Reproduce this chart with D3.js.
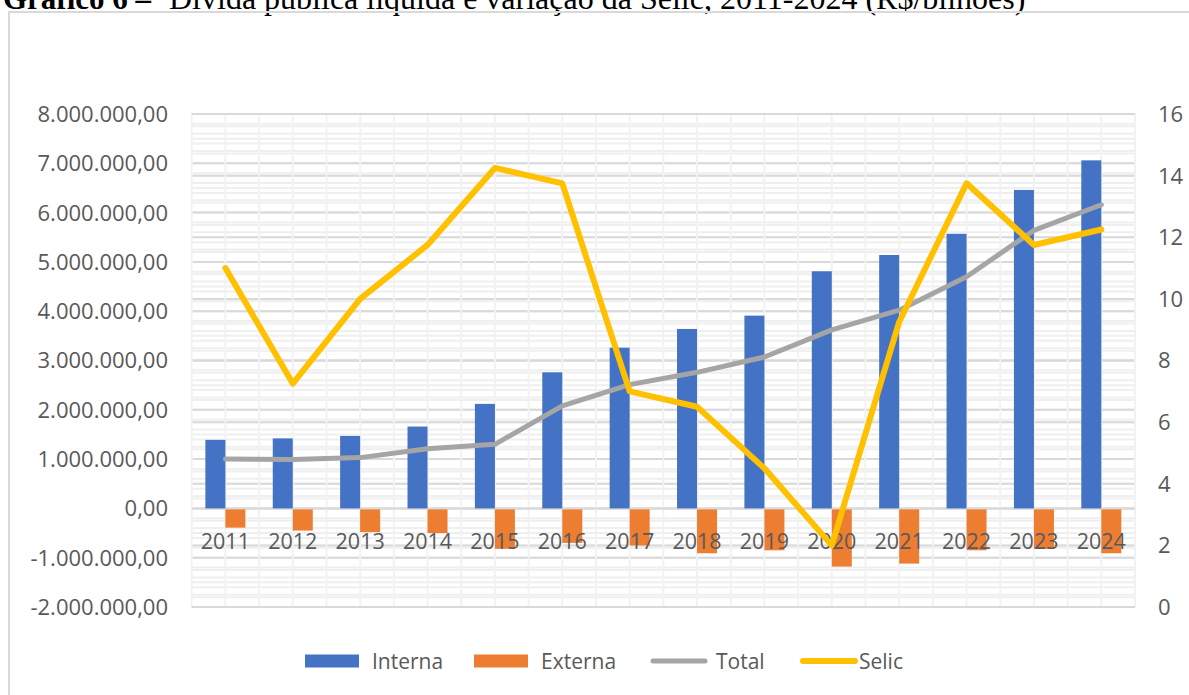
<!DOCTYPE html>
<html lang="pt-BR">
<head>
    <meta charset="UTF-8">
    <title>Dívida pública líquida e variação da Selic, 2011-2024</title>
    <script src="https://d3js.org/d3.v7.min.js"></script>
    <style>
        body { margin: 0; background: white; overflow: hidden; }
        svg { display: block; }
        .tick-label { font-family: "Open Sans", sans-serif; font-size: 22px; fill: #595959; }
        .cat-label { font-family: "Open Sans", sans-serif; font-size: 21.5px; fill: #595959; }
        .legend-label { font-family: "Open Sans", sans-serif; font-size: 21px; fill: #595959; }
        .title { font-family: "Liberation Serif", "Times New Roman", serif; font-size: 32px; fill: #000; }
    </style>
</head>
<body>
    <svg width="1189" height="695"></svg>

    <script>
        // values (R$ and % a.a.)
        const years = ["2011", "2012", "2013", "2014", "2015", "2016", "2017",
                       "2018", "2019", "2020", "2021", "2022", "2023", "2024"];
        const interna = [1390000, 1420000, 1470000, 1660000, 2120000, 2760000, 3260000,
                         3640000, 3910000, 4810000, 5140000, 5570000, 6460000, 7060000];
        const externa = [-390000, -450000, -480000, -500000, -820000, -700000, -750000,
                         -910000, -850000, -1180000, -1120000, -850000, -820000, -910000];
        const total = [1000000, 990000, 1030000, 1210000, 1300000, 2080000, 2510000,
                       2760000, 3070000, 3620000, 4020000, 4700000, 5640000, 6160000];
        const selic = [11.0, 7.25, 10.0, 11.75, 14.25, 13.75, 7.0, 6.5, 4.5, 2.0, 9.25, 13.75, 11.75, 12.25];

        const leftTicks = [-2000000, -1000000, 0, 1000000, 2000000, 3000000, 4000000,
                           5000000, 6000000, 7000000, 8000000];
        const rightTicks = [0, 2, 4, 6, 8, 10, 12, 14, 16];
        const legendItems = ["Interna", "Externa", "Total", "Selic"];

        const colors = { Interna: "#4472C4", Externa: "#ED7D31", Total: "#A5A5A5", Selic: "#FFC000" };

        const br = d3.formatLocale({ decimal: ",", thousands: ".", grouping: [3], currency: ["R$", ""], minus: "-" });
        const fmt = br.format(",.2f");

        const svg = d3.select("svg");
        const plot = { left: 191.7, right: 1135, top: 114, bottom: 607 };

        const x = d3.scaleBand().domain(years).range([plot.left, plot.right]).padding(0);
        const yL = d3.scaleLinear().domain([-2000000, 8000000]).range([plot.bottom, plot.top]);
        const yR = d3.scaleLinear().domain([0, 16]).range([plot.bottom, plot.top]);
        const xc = d => x(d) + x.bandwidth() / 2;

        // title (its upper half is cut off by the page edge, as in the source)
        const title = svg.append("text").attr("class", "title").attr("y", 9);
        title.append("tspan").attr("x", 3).attr("font-weight", "bold").attr("font-size", 31).text("Gráfico 6 –");
        title.append("tspan").attr("x", 169).text("Dívida pública líquida e variação da Selic, 2011-2024 (R$/bilhões)");

        // chart frame
        svg.append("rect").attr("x", 9).attr("y", 12).attr("width", 1200).attr("height", 700)
            .attr("fill", "none").attr("stroke", "#d9d9d9").attr("stroke-width", 2);

        // gridlines: minor first, then major from both axes
        const grid = svg.append("g");
        const minorL = d3.range(-2000000, 8000001, 200000);
        const minorR = d3.range(0, 16.01, 0.4);
        grid.selectAll(".minL").data(minorL).enter().append("line")
            .attr("x1", plot.left).attr("x2", plot.right)
            .attr("y1", d => yL(d)).attr("y2", d => yL(d))
            .attr("stroke", "#efefef").attr("stroke-width", 2);
        grid.selectAll(".minR").data(minorR).enter().append("line")
            .attr("x1", plot.left).attr("x2", plot.right)
            .attr("y1", d => yR(d)).attr("y2", d => yR(d))
            .attr("stroke", "#efefef").attr("stroke-width", 2);
        grid.selectAll(".majR").data(rightTicks).enter().append("line")
            .attr("x1", plot.left).attr("x2", plot.right)
            .attr("y1", d => yR(d)).attr("y2", d => yR(d))
            .attr("stroke", "#d9d9d9").attr("stroke-width", 2);
        grid.selectAll(".majL").data(leftTicks).enter().append("line")
            .attr("x1", plot.left).attr("x2", plot.right)
            .attr("y1", d => yL(d)).attr("y2", d => yL(d))
            .attr("stroke", "#d9d9d9").attr("stroke-width", 2);

        // vertical lines at category edges and centres
        const vx = [];
        years.forEach(y => { vx.push(x(y)); vx.push(xc(y)); });
        vx.push(plot.right);
        grid.selectAll(".v").data(vx).enter().append("line")
            .attr("x1", d => d).attr("x2", d => d)
            .attr("y1", plot.top).attr("y2", plot.bottom)
            .attr("stroke", "#f2f2f2").attr("stroke-width", 2);
        grid.append("line").attr("x1", plot.left).attr("x2", plot.right)
            .attr("y1", plot.top).attr("y2", plot.top).attr("stroke", "#d9d9d9").attr("stroke-width", 2);
        grid.append("line").attr("x1", plot.left).attr("x2", plot.right)
            .attr("y1", plot.bottom).attr("y2", plot.bottom).attr("stroke", "#d9d9d9").attr("stroke-width", 2);
        grid.append("line").attr("x1", plot.left).attr("x2", plot.right)
            .attr("y1", yL(0)).attr("y2", yL(0)).attr("stroke", "#d9d9d9").attr("stroke-width", 2);

        // bars
        const barW = 20;
        svg.append("g").selectAll("rect").data(years).enter().append("rect")
            .attr("x", (d) => xc(d) - barW)
            .attr("width", barW)
            .attr("y", (d, i) => yL(interna[i]))
            .attr("height", (d, i) => yL(0) - yL(interna[i]))
            .attr("fill", colors.Interna);
        svg.append("g").selectAll("rect").data(years).enter().append("rect")
            .attr("x", (d) => xc(d))
            .attr("width", barW)
            .attr("y", yL(0) + 1)
            .attr("height", (d, i) => yL(externa[i]) - yL(0) - 1)
            .attr("fill", colors.Externa);

        // category labels sit just below the zero line
        svg.append("g").selectAll("text").data(years).enter().append("text")
            .attr("class", "cat-label")
            .attr("x", d => xc(d)).attr("y", yL(0) + 41)
            .attr("text-anchor", "middle")
            .text(d => d);

        // lines
        const lineL = d3.line().x((d, i) => xc(years[i])).y(d => yL(d));
        const lineR = d3.line().x((d, i) => xc(years[i])).y(d => yR(d));
        svg.append("path").datum(total).attr("d", lineL)
            .attr("fill", "none").attr("stroke", colors.Total).attr("stroke-width", 5)
            .attr("stroke-linejoin", "round").attr("stroke-linecap", "round");
        svg.append("path").datum(selic).attr("d", lineR)
            .attr("fill", "none").attr("stroke", colors.Selic).attr("stroke-width", 6)
            .attr("stroke-linejoin", "round").attr("stroke-linecap", "round");

        // axes
        svg.append("g").selectAll("text").data(leftTicks).enter().append("text")
            .attr("class", "tick-label")
            .attr("x", 168).attr("y", d => yL(d)).attr("dy", "0.36em")
            .attr("text-anchor", "end")
            .text(d => fmt(d));
        svg.append("g").selectAll("text").data(rightTicks).enter().append("text")
            .attr("class", "tick-label")
            .attr("x", 1158).attr("y", d => yR(d)).attr("dy", "0.36em")
            .text(d => d);

        // legend
        const legendX = [305, 474, 650, 800];
        const legendY = 661;
        const lg = svg.append("g").selectAll("g").data(legendItems).enter().append("g")
            .attr("transform", (d, i) => `translate(${legendX[i]},${legendY})`);
        lg.filter(d => d === "Interna" || d === "Externa").append("rect")
            .attr("x", 0).attr("y", -6.5).attr("width", 54).attr("height", 13)
            .attr("fill", d => colors[d]);
        lg.filter(d => d === "Total" || d === "Selic").append("line")
            .attr("x1", 3).attr("x2", 55).attr("y1", 0).attr("y2", 0)
            .attr("stroke", d => colors[d]).attr("stroke-width", d => d === "Selic" ? 6 : 5)
            .attr("stroke-linecap", "round");
        lg.append("text").attr("class", "legend-label")
            .attr("x", d => d === "Selic" ? 59 : (d === "Total" ? 66 : 67))
            .attr("y", 0).attr("dy", "0.36em")
            .text(d => d);
    </script>
</body>
</html>
